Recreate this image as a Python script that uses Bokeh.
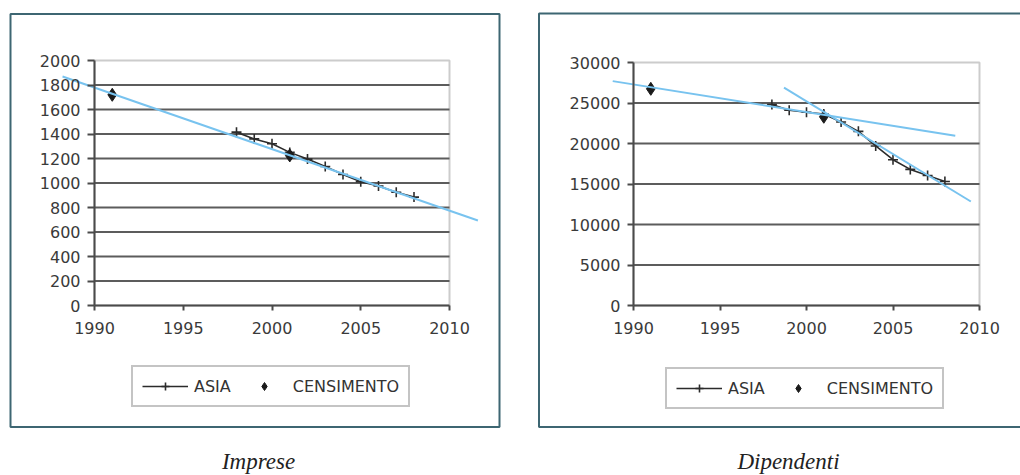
from bokeh.plotting import figure
from bokeh.models import (Range1d, FixedTicker, BoxAnnotation, Legend, LegendItem, Label)
from bokeh.layouts import row
from bokeh.embed import file_html
from bokeh.resources import INLINE

# ---------------- data ----------------
asia_years = [1998, 1999, 2000, 2001, 2002, 2003, 2004, 2005, 2006, 2007, 2008]
census_years = [1991, 2001]
x_ticks = [1990, 1995, 2000, 2005, 2010]

imprese_asia = [1415, 1360, 1320, 1250, 1195, 1135, 1070, 1010, 975, 925, 885]
imprese_census = [1720, 1225]
imprese_trend_years = [1988.2, 2011.6]
imprese_trend = [1869, 694]
imprese_yticks = [0, 200, 400, 600, 800, 1000, 1200, 1400, 1600, 1800, 2000]

dip_asia = [24800, 24100, 23850, 23650, 22650, 21500, 19700, 18000, 16800, 16050, 15300]
dip_census = [26750, 23300]
dip_trend1_years = [1988.8, 2008.6]
dip_trend1 = [27700, 20950]
dip_trend2_years = [1998.7, 2009.5]
dip_trend2 = [26900, 12840]
dip_yticks = [0, 5000, 10000, 15000, 20000, 25000, 30000]

series_labels = ["ASIA", "CENSIMENTO"]
captions = ["Imprese", "Dipendenti"]

TEAL = "#3d6672"
TREND = "#78c3ef"
DARK = "#2b2b2b"
GRID = "#5c5c5c"
TICKFONT = "DejaVu Sans"
H = 475


def make_chart(yticks, asia, census, trends, caption, L):
    ymax = yticks[-1]
    W = L["w"]
    # pixel anchors of the plot area inside this canvas
    px0, px1, py_top, py_bot = L["area"]
    kx = (px1 - px0) / (x_ticks[-1] - x_ticks[0])
    ky = (py_bot - py_top) / ymax
    xr = Range1d(x_ticks[0] - px0 / kx, x_ticks[0] + (W - px0) / kx)
    yr = Range1d(-(H - py_bot) / ky, ymax + py_top / ky)

    p = figure(width=W, height=H, x_range=xr, y_range=yr,
               output_backend="svg", toolbar_location=None, min_border=0,
               background_fill_color="white", border_fill_color="white",
               outline_line_color=None)

    # plot-area border (light grey)
    p.add_layout(BoxAnnotation(left=x_ticks[0], right=x_ticks[-1], bottom=0, top=ymax,
                               fill_color=None, fill_alpha=0, line_color="#cccccc",
                               line_alpha=1, line_width=2, level="underlay"))

    # horizontal grid lines, bounded to the plot area
    grid_vals = yticks[1:-1]
    p.segment(x0=[x_ticks[0]] * len(grid_vals), x1=[x_ticks[-1]] * len(grid_vals),
              y0=grid_vals, y1=grid_vals, line_color=GRID, line_width=2)
    p.xgrid.visible = False
    p.ygrid.visible = False

    # axes
    xa = p.xaxis[0]
    xa.ticker = FixedTicker(ticks=x_ticks)
    xa.bounds = (x_ticks[0], x_ticks[-1])
    xa.fixed_location = 0
    ya = p.yaxis[0]
    ya.ticker = FixedTicker(ticks=yticks)
    ya.bounds = (0, ymax)
    ya.fixed_location = x_ticks[0]
    for ax in (xa, ya):
        ax.axis_line_color = "#4a4a4a"
        ax.axis_line_width = 2
        ax.major_tick_line_color = "#4a4a4a"
        ax.major_tick_line_width = 2
        ax.major_tick_in = 0
        ax.minor_tick_line_color = None
        ax.major_label_text_font = TICKFONT
        ax.major_label_text_font_size = "16px"
        ax.major_label_text_color = "#3a3a3a"
    xa.major_tick_out = 5
    xa.major_label_standoff = 11
    ya.major_tick_out = L["yto"]
    ya.major_label_standoff = 7

    # data
    r_line = p.line(asia_years, asia, line_color=DARK, line_width=1.6)
    r_cross = p.scatter(asia_years, asia, marker="cross", size=10,
                        line_color=DARK, line_width=1.6)
    r_diam = p.scatter(census_years, census, marker="diamond", size=13,
                       fill_color="#1a1a1a", line_color="#1a1a1a")
    for tx, ty in trends:
        p.line(tx, ty, line_color=TREND, line_width=2)

    legend = Legend(items=[LegendItem(label=series_labels[0], renderers=[r_line, r_cross]),
                           LegendItem(label=series_labels[1], renderers=[r_diam])],
                    orientation="horizontal", location=L["legloc"],
                    glyph_width=46, glyph_height=20, label_height=20,
                    padding=9, spacing=10, label_standoff=6, margin=0,
                    label_text_font=TICKFONT, label_text_font_size="16px",
                    label_text_color="#333333",
                    border_line_color="#8a8a8a", border_line_width=2,
                    background_fill_color="white", background_fill_alpha=1)
    p.add_layout(legend)

    # outer teal frame
    p.add_layout(BoxAnnotation(left=L["frame"][0], right=L["frame"][1],
                               top=L["frame"][2], bottom=L["frame"][3],
                               left_units="canvas", right_units="canvas",
                               top_units="canvas", bottom_units="canvas",
                               fill_color=None, fill_alpha=0,
                               line_color=TEAL, line_alpha=1, line_width=2))

    # caption
    p.add_layout(Label(x=L["cap"][0], y=L["cap"][1], x_units="screen", y_units="screen",
                       text=caption, text_font="Liberation Serif",
                       text_font_style="italic", text_font_size="23px",
                       text_align="center", text_baseline="middle",
                       text_color="#222222"))
    return p


L1 = dict(w=520, area=(94, 449, 60, 305), yto=7,
          legloc=(131, 68), frame=(10, 499, 13.5, 426.5), cap=(258, 14))
L2 = dict(w=500, area=(113, 459, 62, 305), yto=6,
          legloc=(145, 66), frame=(18.5, 530, 13, 426.5), cap=(268, 14))

p1 = make_chart(imprese_yticks, imprese_asia, imprese_census,
                [(imprese_trend_years, imprese_trend)], captions[0], L1)
p2 = make_chart(dip_yticks, dip_asia, dip_census,
                [(dip_trend1_years, dip_trend1), (dip_trend2_years, dip_trend2)],
                captions[1], L2)

layout = row(p1, p2, spacing=0)
open("out.html", "w").write(file_html(layout, INLINE))
